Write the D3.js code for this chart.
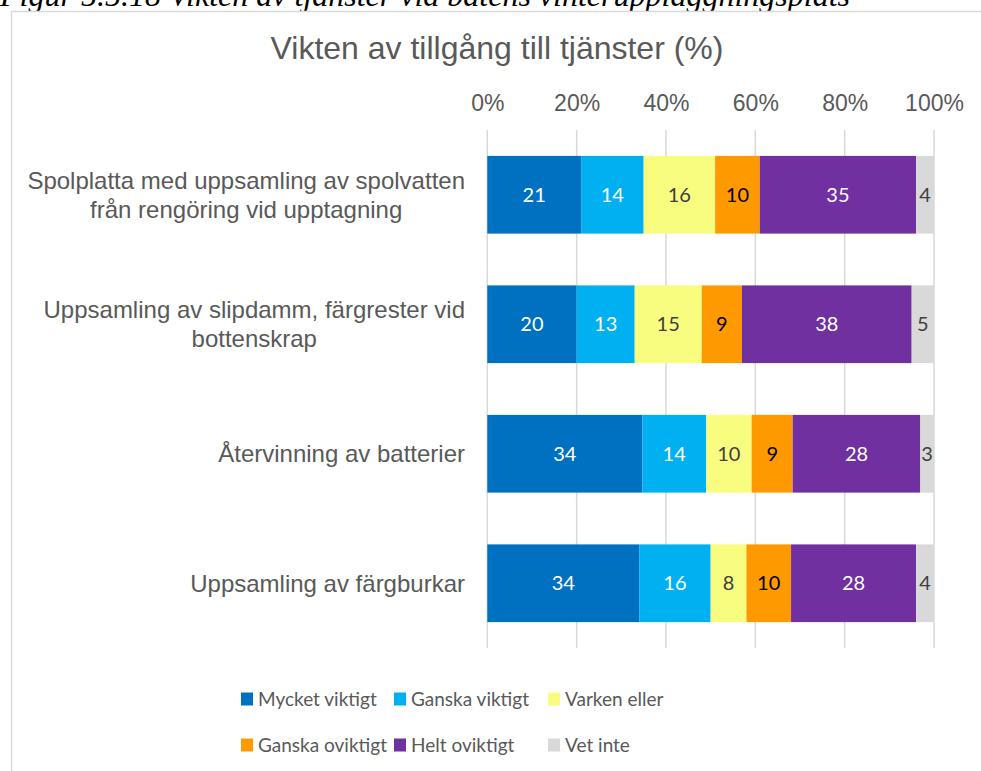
<!DOCTYPE html>
<html><head><meta charset="utf-8">
<script src="https://cdn.jsdelivr.net/npm/d3@7"></script>
<style>body{margin:0;background:#fff}svg{display:block}</style>
</head><body>
<svg id="c" width="981" height="771"></svg>
<script>
const categories = [
  ["Spolplatta med uppsamling av spolvatten", "från rengöring vid upptagning"],
  ["Uppsamling av slipdamm, färgrester vid", "bottenskrap"],
  ["Återvinning av batterier"],
  ["Uppsamling av färgburkar"]
];
const seriesNames = ["Mycket viktigt","Ganska viktigt","Varken eller","Ganska oviktigt","Helt oviktigt","Vet inte"];
const seriesColors = ["#0070C0","#00B0F0","#F8FC7F","#FF9900","#7030A0","#D9D9D9"];
const labelColors = ["#ffffff","#ffffff","#404040","#000000","#ffffff","#404040"];
const mycketViktigt = [21,20,34,34];
const ganskaViktigt = [14,13,14,16];
const varkenEller  = [16,15,10,8];
const ganskaOviktigt = [10,9,9,10];
const heltOviktigt = [35,38,28,28];
const vetInte = [4,5,3,4];
const tickValues = [0,0.2,0.4,0.6,0.8,1];
const tickLabels = ["0%","20%","40%","60%","80%","100%"];
const title = "Vikten av tillgång till tjänster (%)";
const caption = "Figur 5.5.18 Vikten av tjänster vid båtens vinteruppläggningsplats";

const seriesVals = [mycketViktigt,ganskaViktigt,varkenEller,ganskaOviktigt,heltOviktigt,vetInte];
const rows = categories.map((c,i)=>{const o={i}; seriesNames.forEach((s,j)=>o[s]=seriesVals[j][i]); return o;});
const stack = d3.stack().keys(seriesNames).offset(d3.stackOffsetExpand)(rows);

const svg = d3.select("#c");
const grey = "#595959";
svg.append("text").attr("x",0).attr("y",6).attr("font-family","Liberation Serif").attr("font-style","italic")
  .attr("font-size",32).attr("fill","#000").text(caption);
svg.append("rect").attr("x",11.5).attr("y",11.5).attr("width",1000).attr("height",800)
  .attr("fill","#fff").attr("stroke","#d9d9d9").attr("stroke-width",1.5);

const x = d3.scaleLinear().domain([0,1]).range([487.3,934]);
const y = d3.scaleBand().domain(d3.range(categories.length)).range([130,648]).paddingInner(0.4).paddingOuter(0.2);

svg.append("text").attr("x",497).attr("y",48).attr("dy","0.35em").attr("text-anchor","middle").attr("font-family","Liberation Sans")
  .attr("font-size",32).attr("fill",grey).text(title);

// gridlines
svg.append("g").selectAll("line").data(tickValues).join("line")
  .attr("x1",d=>x(d)).attr("x2",d=>x(d)).attr("y1",130).attr("y2",648)
  .attr("stroke","#d9d9d9").attr("stroke-width",1.5);

const ax = svg.append("g").attr("transform","translate(0,130)")
  .call(d3.axisTop(x).tickValues(tickValues).tickFormat((d,i)=>tickLabels[i]).tickSize(0).tickPadding(19));
ax.select(".domain").remove();
ax.selectAll("text").attr("font-family","Liberation Sans").attr("font-size",23).attr("fill",grey);

// bars
const g = svg.append("g");
stack.forEach((s,j)=>{
  const gg = g.append("g");
  gg.selectAll("rect").data(s).join("rect")
    .attr("x",d=>x(d[0])).attr("width",d=>x(d[1])-x(d[0]))
    .attr("y",(d,i)=>y(i)).attr("height",y.bandwidth())
    .attr("fill",seriesColors[j]);
  gg.selectAll("text").data(s).join("text")
    .attr("x",d=>(x(d[0])+x(d[1]))/2).attr("y",(d,i)=>y(i)+y.bandwidth()/2)
    .attr("dy","0.35em").attr("text-anchor","middle")
    .attr("font-family","Lato").attr("font-size",20).attr("fill",labelColors[j])
    .text((d,i)=>seriesVals[j][i]);
});

// category labels
const right = 465;
categories.forEach((lines,i)=>{
  const cy = y(i)+y.bandwidth()/2;
  const grp = svg.append("g");
  const lh = 29;
  const ts = lines.map((l,k)=>grp.append("text").attr("font-family","Liberation Sans").attr("font-size",24)
    .attr("fill",grey).attr("text-anchor","middle").attr("dy","0.35em")
    .attr("y",cy + (k-(lines.length-1)/2)*lh).text(l));
  const w = d3.max(ts,t=>t.node().getComputedTextLength());
  ts.forEach(t=>t.attr("x",right-w/2));
});

// legend
const legX = [241,394,548];
const legY = [699,745];
seriesNames.forEach((s,j)=>{
  const cx = legX[j%3], cy = legY[Math.floor(j/3)];
  svg.append("rect").attr("x",cx).attr("y",cy-6.5).attr("width",12).attr("height",13).attr("fill",seriesColors[j]);
  svg.append("text").attr("x",cx+17).attr("y",cy).attr("dy","0.35em").attr("font-family","Lato")
    .attr("font-size",19).attr("fill",grey).text(s);
});
</script>
</body></html>
